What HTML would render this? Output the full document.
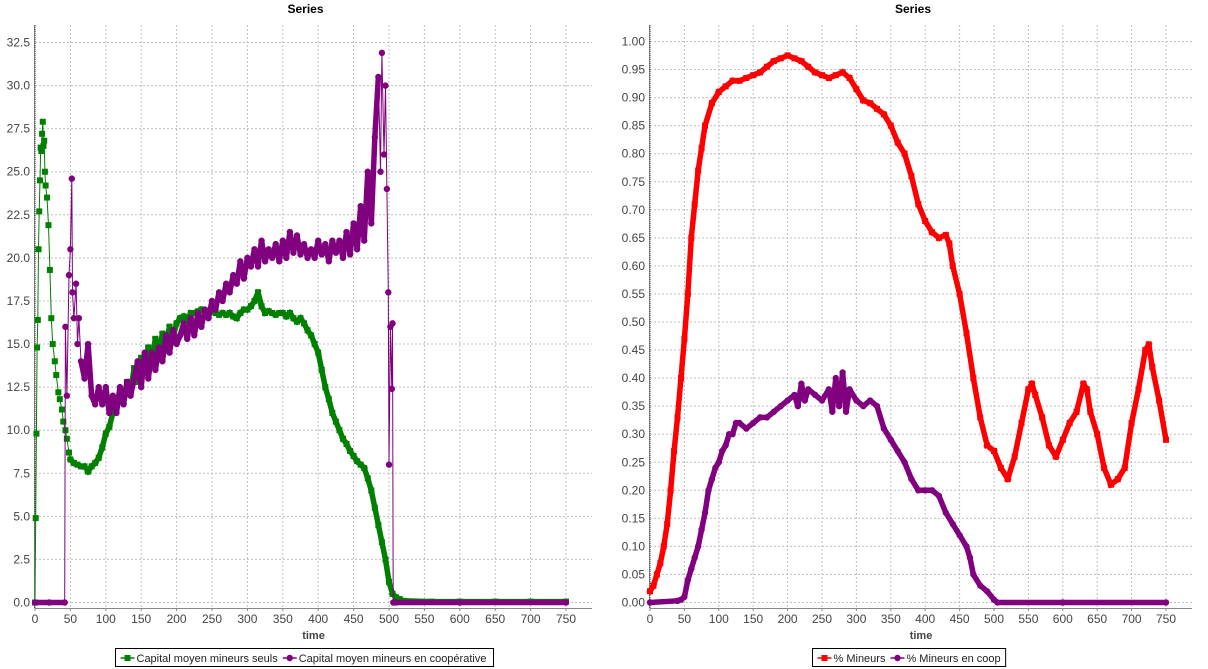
<!DOCTYPE html>
<html><head><meta charset="utf-8"><style>
body{margin:0;background:#fff;width:1208px;height:669px;overflow:hidden;font-family:"Liberation Sans",sans-serif}
svg{position:absolute;left:0;top:0}
</style></head><body>
<svg id="chart" width="1208" height="669" xmlns="http://www.w3.org/2000/svg"></svg>
<script>
// ---- Left chart data ----
const leftTicksY = ["0.0","2.5","5.0","7.5","10.0","12.5","15.0","17.5","20.0","22.5","25.0","27.5","30.0","32.5"];
const leftTickValsY = [0,2.5,5,7.5,10,12.5,15,17.5,20,22.5,25,27.5,30,32.5];
const xTickVals = [0,50,100,150,200,250,300,350,400,450,500,550,600,650,700,750];
const greenT = [0,1,2,3,4,5,6,7,8,9,10,11,12,13,14,15,17,19,21,23,25,28,30,33,35,38,40,43,45,48,50,55,60,65,70,75,80,85,90,95,100,105,110,115,120,125,130,135,140,145,150,155,160,165,170,175,180,185,190,195,200,205,210,215,220,225,230,235,240,245,250,255,260,265,270,275,280,285,290,295,300,305,310,315,320,325,330,335,340,345,350,355,360,365,370,375,380,385,390,395,400,405,410,415,420,425,430,435,440,445,450,455,460,465,470,475,480,485,490,495,500,505,510,515,520,560,600,650,700,750];
const greenV = [0,4.9,9.8,14.8,16.4,20.5,22.7,24.5,26.4,26.2,27.2,27.9,26.5,26.8,25,24.2,23.5,21.9,19.3,16.5,15,14,13.2,12.2,11.8,11.2,10.5,10,9.5,8.7,8.3,8.1,8,7.9,7.9,7.6,7.9,8.1,8.4,9,9.8,10.2,11,11.3,12,11.6,12.8,12.2,13.6,12.8,14.2,13.5,14.8,14,15.3,14.6,15.6,15,16,15.4,16.2,16.5,16.6,16.4,16.8,16.8,16.9,17,16.9,16.8,16.9,16.8,16.7,16.8,16.7,16.8,16.6,16.5,16.8,17,17,17.2,17.5,18,17.2,16.8,16.9,16.8,16.7,16.8,16.8,16.6,16.8,16.5,16.3,16.5,16.2,15.8,15.5,15,14.5,13.5,12.5,11.8,11,10.5,10,9.5,9.2,8.8,8.5,8.2,8,7.8,7.2,6.5,5.5,4.5,3.5,2.5,1.2,0.5,0.3,0.2,0.1,0.05,0.05,0.05,0.05,0.05];
const coopT = [0,20,42,43,45,48,50,52,53,55,58,60,62,65,70,75,80,85,90,95,100,105,110,115,120,125,130,135,140,145,150,155,160,165,170,175,180,185,190,195,200,205,210,215,220,225,230,235,240,245,250,255,260,265,270,275,280,285,290,295,300,305,310,315,320,325,330,335,340,345,350,355,360,365,370,375,380,385,390,395,400,405,410,415,420,425,430,435,440,445,450,455,460,465,470,475,480,485,488,490,493,495,497,499,500,502,504,505,506,510,600,750];
const coopV = [0,0,0,16,12,19,20.5,24.6,18,16.5,18.5,15,16.5,14,13,15,12,11.5,12.5,11.5,12.5,11,12,11,12.5,11.5,12.8,12,13,14,12.5,14.5,13,14.5,13.5,14.8,14,15.5,14.5,15.8,15,15.5,16.2,15.3,16.5,15.5,16.8,16,17,16.5,17.5,17,18,17.5,18.5,18,19,18.5,19.8,18.8,20,19.5,20.5,19.5,21,19.8,20.5,20,20.8,19.8,21,20,21.5,20.3,21.3,20.2,20.8,20,20.5,20,21,20.2,20.8,19.8,21,20.3,21,20,21.5,20.2,22,20.5,23,21,25,22,27,30.5,25,31.9,26,30,24,18,8,16,12.4,16.2,0,0,0,0];
// ---- Right chart data ----
const rightTicksY = ["0.00","0.05","0.10","0.15","0.20","0.25","0.30","0.35","0.40","0.45","0.50","0.55","0.60","0.65","0.70","0.75","0.80","0.85","0.90","0.95","1.00"];
const rightTickValsY = [0,0.05,0.1,0.15,0.2,0.25,0.3,0.35,0.4,0.45,0.5,0.55,0.6,0.65,0.7,0.75,0.8,0.85,0.9,0.95,1];
const redT = [0,5,10,15,20,25,30,35,40,45,50,55,60,65,70,75,80,90,100,110,120,130,140,150,160,170,180,190,200,210,220,230,240,250,260,270,280,290,300,310,320,330,340,350,360,370,380,390,400,410,420,430,435,440,450,460,470,480,490,500,510,520,530,540,550,555,560,570,580,590,600,610,620,630,635,640,650,660,670,680,690,700,710,720,725,730,740,750];
const redV = [0.02,0.03,0.05,0.07,0.1,0.14,0.2,0.27,0.33,0.4,0.47,0.55,0.65,0.71,0.77,0.81,0.85,0.89,0.91,0.92,0.93,0.93,0.935,0.94,0.945,0.955,0.965,0.97,0.975,0.97,0.965,0.955,0.945,0.94,0.935,0.94,0.945,0.935,0.915,0.895,0.89,0.88,0.87,0.85,0.82,0.8,0.76,0.71,0.68,0.66,0.65,0.655,0.64,0.6,0.55,0.48,0.4,0.33,0.28,0.27,0.24,0.22,0.26,0.32,0.38,0.39,0.37,0.33,0.28,0.26,0.29,0.32,0.34,0.39,0.38,0.34,0.3,0.24,0.21,0.22,0.24,0.32,0.38,0.45,0.46,0.42,0.36,0.29];
const pcoopT = [0,40,45,50,55,60,65,70,75,80,85,90,95,100,105,110,115,120,125,130,140,150,160,170,180,190,200,210,215,220,225,230,240,250,260,265,270,275,280,285,290,300,310,320,330,340,350,360,370,380,390,400,410,420,430,440,450,460,465,470,480,490,500,505,600,750];
const pcoopV = [0,0.003,0.005,0.01,0.04,0.06,0.08,0.1,0.13,0.16,0.2,0.22,0.24,0.25,0.27,0.28,0.3,0.3,0.32,0.32,0.31,0.32,0.33,0.33,0.34,0.35,0.36,0.37,0.35,0.39,0.36,0.38,0.37,0.36,0.38,0.34,0.4,0.35,0.41,0.34,0.38,0.36,0.35,0.36,0.35,0.31,0.29,0.27,0.25,0.22,0.2,0.2,0.2,0.19,0.16,0.14,0.12,0.1,0.08,0.05,0.03,0.02,0.005,0,0,0];

const NS="http://www.w3.org/2000/svg";
const svg=document.getElementById('chart');
function el(tag,attrs,parent){const e=document.createElementNS(NS,tag);for(const k in attrs)e.setAttribute(k,attrs[k]);(parent||svg).appendChild(e);return e;}

function drawChart(o){
  const g=el('g',{});
  
  
  const xs=v=>o.x0+(v-0)*(o.x750-o.x0)/750;
  const ys=v=>o.y0+(v-0)*(o.yTop-o.y0)/o.yTopVal;
  el('rect',{x:o.left,y:o.top,width:o.right-o.left,height:o.bottom-o.top,fill:'#fff'},g);
  xTickVals.forEach(v=>{const l=el('line',{x1:xs(v),x2:xs(v),y1:o.top,y2:o.bottom,stroke:'#c0c0c0','stroke-dasharray':'2,2'},g);
    
    });
  o.yVals.forEach(v=>{const l=el('line',{x1:o.left,x2:o.right,y1:ys(v),y2:ys(v),stroke:'#c0c0c0','stroke-dasharray':'2,2'},g);
    
    });
  el('line',{x1:o.left,x2:o.right,y1:o.bottom+0.5,y2:o.bottom+0.5,stroke:'#888'},g);
  el('line',{x1:o.left-0.5,x2:o.left-0.5,y1:o.top,y2:o.bottom,stroke:'#888'},g);
  el('line',{x1:o.x0,x2:o.x0,y1:o.top,y2:o.bottom,stroke:'#333','stroke-dasharray':'1,1'},g);
  xTickVals.forEach(v=>{el('line',{x1:xs(v),x2:xs(v),y1:o.bottom,y2:o.bottom+3,stroke:'#888'},g);
    const t=el('text',{x:xs(v),y:o.bottom+15,'font-size':12,fill:'#444','text-anchor':'middle'},g);t.textContent=v;
    
    });
  o.yVals.forEach((v,i)=>{const t=el('text',{x:o.left-5,y:ys(v)+4,'font-size':12,fill:'#444','text-anchor':'end'},g);t.textContent=o.yLabels[i];
    
    });
  const ti=el('text',{x:(o.left+o.right)/2-8,y:13,'font-size':12,'font-weight':'bold','text-anchor':'middle',fill:'#000'},g);ti.textContent='Series';
  
  
  const xl=el('text',{x:(o.left+o.right)/2,y:639,'font-size':11,'font-weight':'bold','text-anchor':'middle',fill:'#444'},g);xl.textContent='time';
  
  
  o.series.forEach(s=>{
    // thick band between widely spaced samples (simulates per-step markers)
    for(let i=1;i<s.t.length;i++){
      if(s.t[i]-s.t[i-1]>=5){
        const b=el('line',{x1:xs(s.t[i-1]),y1:ys(s.v[i-1]),x2:xs(s.t[i]),y2:ys(s.v[i]),stroke:s.color,'stroke-width':5.5,'stroke-linecap':s.shape==='sq'?'square':'round'},g);
        
        
      }
    }
    const pts=s.t.map((t,i)=>xs(t).toFixed(1)+','+ys(s.v[i]).toFixed(1)).join(' ');
    const pl=el('polyline',{points:pts,fill:'none',stroke:s.color,'stroke-width':1},g);
    
    
    s.t.forEach((t,i)=>{let m;
      if(s.shape==='sq') m=el('rect',{x:xs(t)-3,y:ys(s.v[i])-3,width:6,height:6,fill:s.color},g);
      else m=el('circle',{cx:xs(t),cy:ys(s.v[i]),r:3.2,fill:s.color},g);
      
      });
  });
  const lg=el('g',{},g);
  
  
  const box=el('rect',{x:o.legX,y:648.5,width:o.legW,height:18,fill:'#fff',stroke:'#000'},lg);
  let x=o.legX+5;
  o.series.forEach(s=>{
    el('line',{x1:x,x2:x+14,y1:658,y2:658,stroke:s.color,'stroke-width':1.5},lg);
    if(s.shape==='sq') el('rect',{x:x+4,y:655,width:6,height:6,fill:s.color},lg); else el('circle',{cx:x+7,cy:658,r:3.2,fill:s.color},lg);
    const t=el('text',{x:x+16,y:662,'font-size':11,fill:'#222'},lg);t.textContent=s.label;
    
    
    x+=16+t.getComputedTextLength()+5;
  });
  box.setAttribute('width',Math.max(o.legW,x-o.legX));
}
drawChart({name:'left-chart',left:35,right:592,top:25,bottom:608,x0:35,x750:566,y0:602.5,yTop:42.5,yTopVal:32.5,
  yVals:leftTickValsY,yLabels:leftTicksY,legX:115.5,legW:378,
  series:[{name:'capital-seuls',label:'Capital moyen mineurs seuls',t:greenT,v:greenV,color:'#008000',shape:'sq'},
          {name:'capital-coop',label:'Capital moyen mineurs en coopérative',t:coopT,v:coopV,color:'#800080',shape:'ci'}]});
drawChart({name:'right-chart',left:650,right:1192,top:25,bottom:608,x0:650,x750:1166,y0:602.5,yTop:41.5,yTopVal:1,
  yVals:rightTickValsY,yLabels:rightTicksY,legX:812.5,legW:188,
  series:[{name:'pct-mineurs',label:'% Mineurs',t:redT,v:redV,color:'#ff0000',shape:'sq'},
          {name:'pct-coop',label:'% Mineurs en coop',t:pcoopT,v:pcoopV,color:'#800080',shape:'ci'}]});
</script>
</body></html>
